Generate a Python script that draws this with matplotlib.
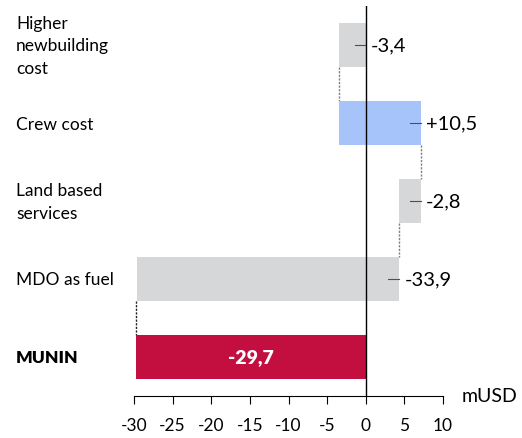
import matplotlib.pyplot as plt

plt.rcParams['font.family'] = ['Lato', 'DejaVu Sans']

categories = ["Higher\nnewbuilding\ncost", "Crew cost", "Land based\nservices", "MDO as fuel", "MUNIN"]
deltas = [-3.4, 10.5, -2.8, -33.9]
total = -29.7
value_labels = ["-3,4", "+10,5", "-2,8", "-33,9"]
total_label = "-29,7"
xticks = [-30, -25, -20, -15, -10, -5, 0, 5, 10]

grey = "#d6d7d9"
blue = "#a6c4fa"
red = "#c20f3f"
bar_colors = [grey, blue, grey, grey]

fig = plt.figure(figsize=(5.22, 4.39), dpi=100)
ax = fig.add_axes([0.2567, 0.0957, 0.592, 0.888])

bar_h = 0.56
start = 0.0
ends = []
for i, d in enumerate(deltas):
    left = min(start, start + d)
    ax.barh(i, abs(d), left=left, height=bar_h, color=bar_colors[i], zorder=2)
    right = max(start, start + d)
    # little leader dash at the bar end, then the value
    ax.plot([right - 1.4, right], [i, i], color="#505050", lw=0.8, zorder=3)
    ax.text(right + 0.7, i, value_labels[i], va="center", ha="left", fontsize=14.5)
    start = start + d
    ends.append(start)

ax.barh(len(deltas), abs(total), left=min(0, total), height=bar_h, color=red, zorder=2)
ax.text(total / 2, len(deltas), total_label, va="center", ha="center",
        fontsize=14, color="white", fontweight="heavy")

# dashed connectors between consecutive bars
for i, e in enumerate(ends):
    c = "#222222" if i == len(ends) - 1 else "#808080"
    x = total if i == len(ends) - 1 else e
    ax.plot([x, x], [i + bar_h / 2, i + 1 - bar_h / 2], ls=(0, (1.6, 1.0)),
            color=c, lw=1.0, zorder=1)

ax.axvline(0, color="black", lw=1.0, zorder=4)

ax.set_xlim(-30, 10)
ax.set_ylim(4.5, -0.5)
ax.set_xticks(xticks)
ax.set_xticklabels([str(t) for t in xticks], fontsize=12.5)
ax.tick_params(axis="x", length=6, width=0.8, pad=9)
ax.set_yticks([])
for s in ["top", "right", "left"]:
    ax.spines[s].set_visible(False)
ax.spines["bottom"].set_linewidth(0.8)

for i, name in enumerate(categories):
    fig.text(16 / 522, 1 - (46.5 + 78 * i) / 439, name, ha="left", va="center",
             fontsize=12.5, linespacing=1.52,
             fontweight="heavy" if name == "MUNIN" else "normal")

ax.text(1.06, 0.0, "mUSD", transform=ax.transAxes, ha="left", va="center", fontsize=14)

fig.savefig("out.png", dpi=100)
